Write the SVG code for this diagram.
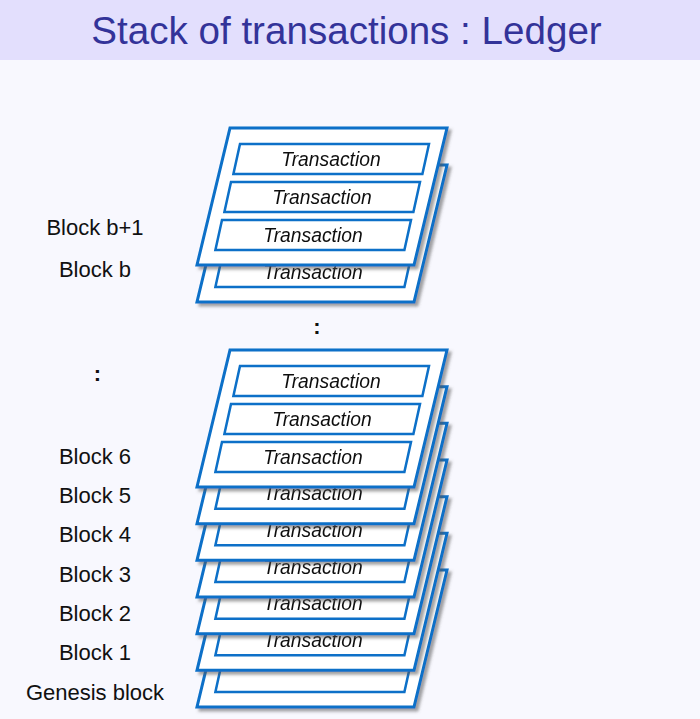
<svg xmlns="http://www.w3.org/2000/svg" xmlns:xlink="http://www.w3.org/1999/xlink" width="700" height="719" viewBox="0 0 700 719">
<style>
.outer{fill:#ffffff;stroke:#0A6FC8;stroke-width:3;stroke-linejoin:miter}
.box{fill:#ffffff;stroke:#0A6FC8;stroke-width:2.5}
.tx{font-family:"Liberation Sans",Arial,sans-serif;font-style:italic;font-size:19.3px;fill:#111;text-anchor:middle}
.lbl{font-family:"Liberation Sans",Arial,sans-serif;font-size:22px;fill:#111;text-anchor:middle}
.dots{font-family:"Liberation Sans",Arial,sans-serif;font-size:22px;font-weight:bold;fill:#111;text-anchor:middle}
.title{font-family:"Liberation Sans",Arial,sans-serif;font-size:38.6px;fill:#333399;text-anchor:middle}
</style>
<defs>
<filter id="sh" x="-10%" y="-10%" width="130%" height="130%">
<feDropShadow dx="3" dy="3" stdDeviation="1.8" flood-color="#555" flood-opacity="0.55"/>
</filter>
<g id="frame">
<polygon class="outer" points="230,128 447,128 414,265 197,265"/>
<polygon class="box" points="240,144 429,144 422.4,174 233.4,174"/>
<polygon class="box" points="231,182 420,182 413.4,212 224.4,212"/>
<polygon class="box" points="222,220 411,220 404.4,250 215.4,250"/>
</g>
<g id="block">
<use xlink:href="#frame"/>
<text class="tx" x="331" y="165.5">Transaction</text>
<text class="tx" x="322" y="203.5">Transaction</text>
<text class="tx" x="313" y="241.5">Transaction</text>
</g>
</defs>
<rect x="0" y="0" width="700" height="719" fill="#F8F8FE"/>
<rect x="0" y="0" width="700" height="60" fill="#E3DFFD"/>
<text class="title" x="346.5" y="43.5">Stack of transactions : Ledger</text>

<g id="connectors"/>

<g id="block-b" filter="url(#sh)"><use xlink:href="#block" transform="translate(0,37)"/></g>
<g id="block-b1" filter="url(#sh)"><use xlink:href="#block"/></g>

<g id="genesis-block" filter="url(#sh)"><use xlink:href="#frame" transform="translate(0,442)"/></g>
<g id="block-1" filter="url(#sh)"><use xlink:href="#block" transform="translate(0,405.33)"/></g>
<g id="block-2" filter="url(#sh)"><use xlink:href="#block" transform="translate(0,368.67)"/></g>
<g id="block-3" filter="url(#sh)"><use xlink:href="#block" transform="translate(0,332)"/></g>
<g id="block-4" filter="url(#sh)"><use xlink:href="#block" transform="translate(0,295.33)"/></g>
<g id="block-5" filter="url(#sh)"><use xlink:href="#block" transform="translate(0,258.67)"/></g>
<g id="block-6" filter="url(#sh)"><use xlink:href="#block" transform="translate(0,222)"/></g>

<g id="labels">
<text class="lbl" x="95" y="235">Block b+1</text>
<text class="lbl" x="95" y="277">Block b</text>
<text class="lbl" x="95" y="464">Block 6</text>
<text class="lbl" x="95" y="503">Block 5</text>
<text class="lbl" x="95" y="542">Block 4</text>
<text class="lbl" x="95" y="582">Block 3</text>
<text class="lbl" x="95" y="621">Block 2</text>
<text class="lbl" x="95" y="660">Block 1</text>
<text class="lbl" x="95" y="700">Genesis block</text>
<text class="dots" x="317" y="334">:</text>
<text class="dots" x="97.5" y="381">:</text>
</g>
</svg>
